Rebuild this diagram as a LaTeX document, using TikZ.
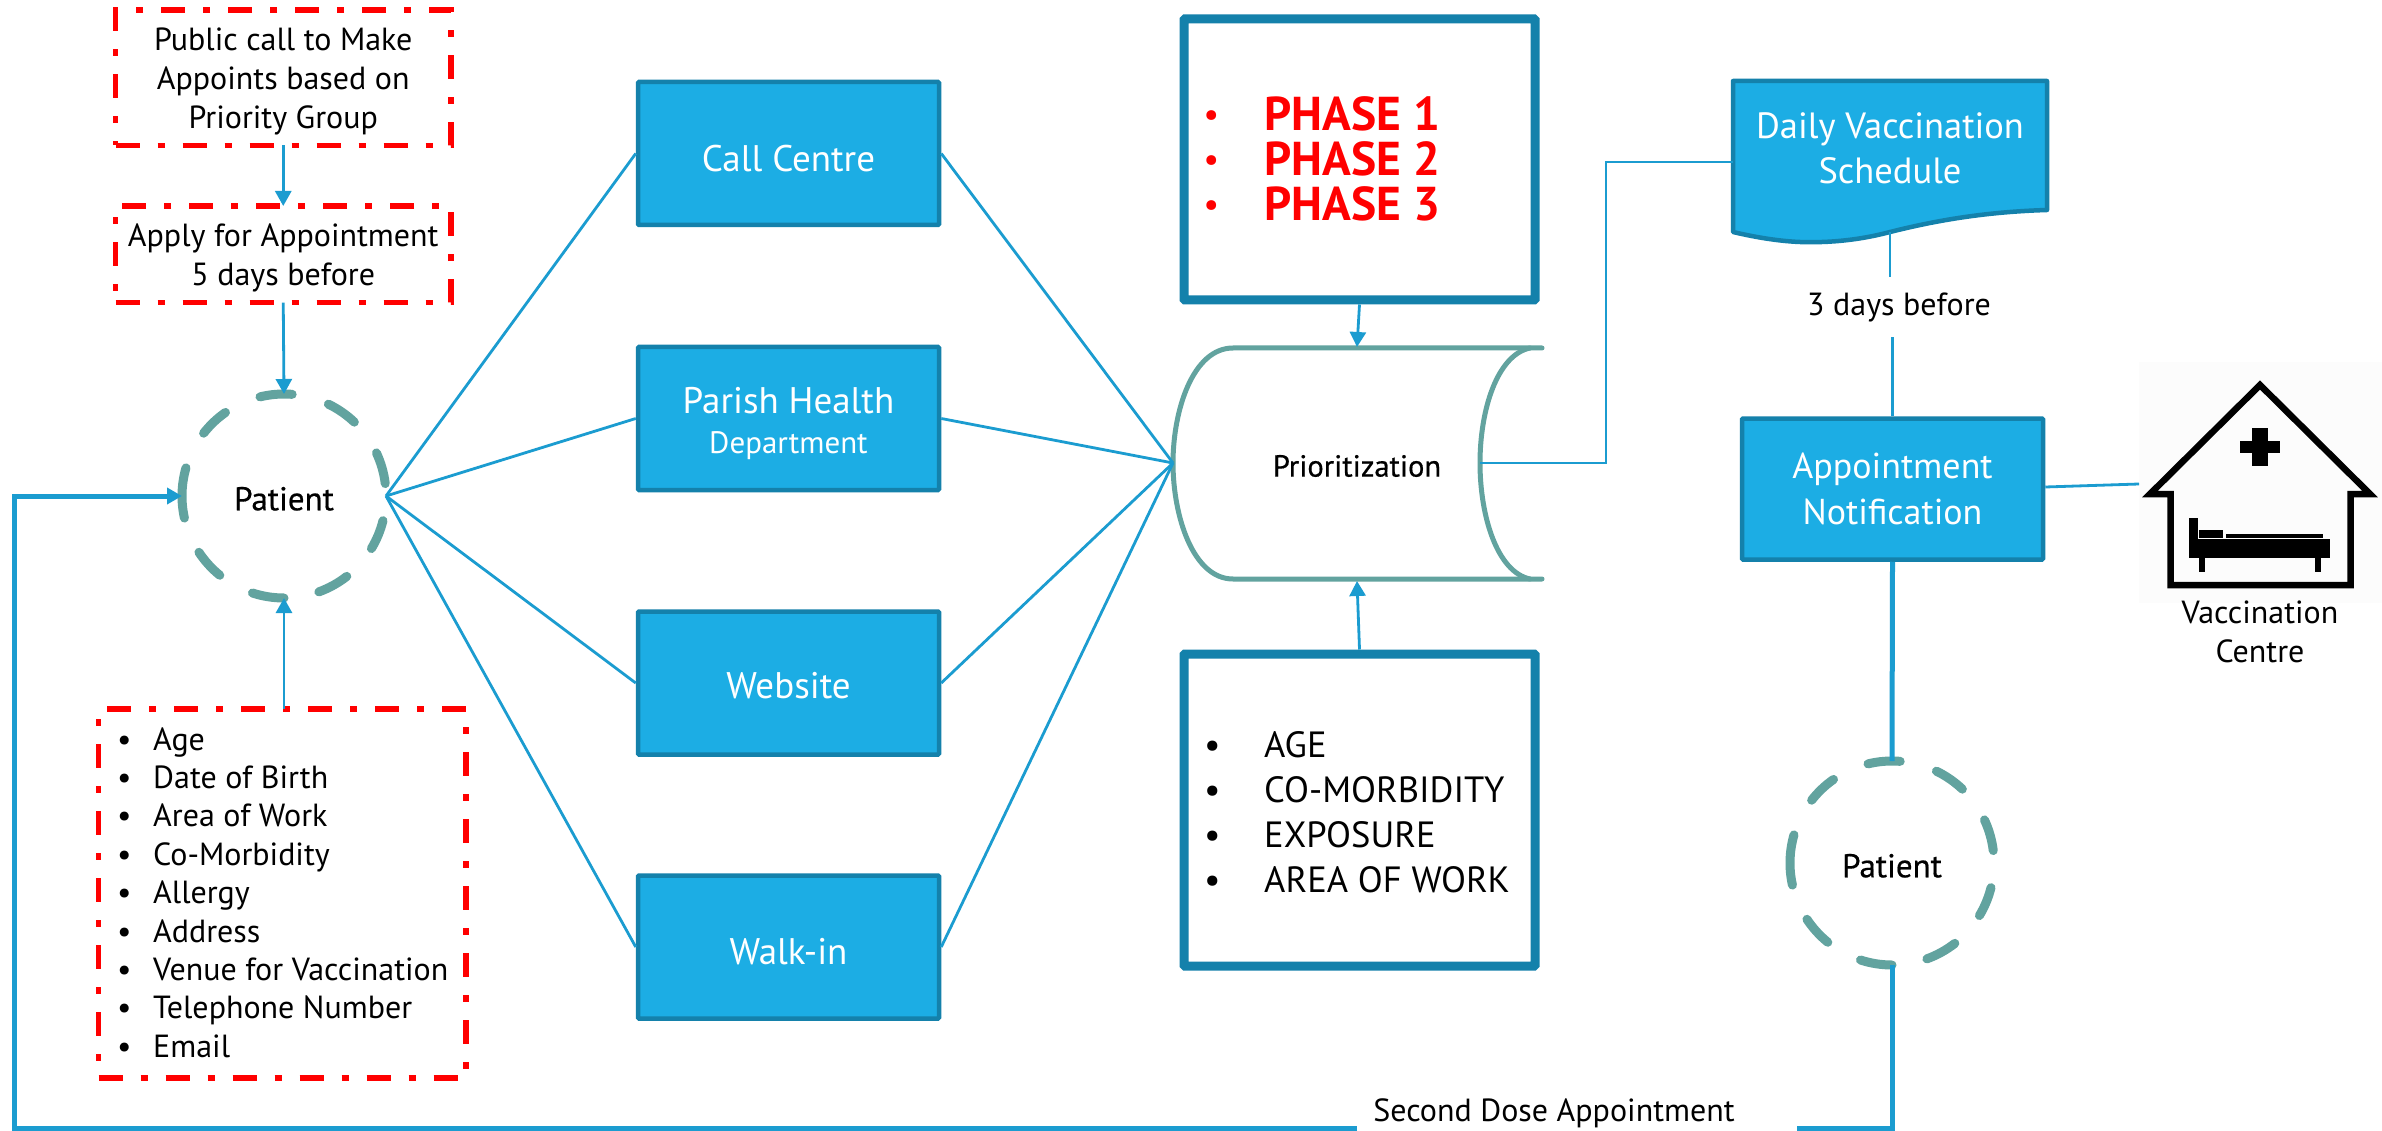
\documentclass[tikz,border=0pt]{standalone}
\usepackage{fontspec}
\setmainfont{PT Sans}
\usetikzlibrary{arrows.meta}
\definecolor{boxfill}{HTML}{1CADE4}
\definecolor{boxline}{HTML}{1481AB}
\definecolor{tealc}{HTML}{62A39F}
\definecolor{linkc}{HTML}{1B9CD0}
\newcommand{\tp}[1]{\rule{0pt}{#1}}
\tikzset{
  x=1pt,y=-1pt,
  redbox/.style={draw=red,line width=5.5pt,outer sep=0pt,dash pattern=on 24pt off 18pt on 7pt off 18pt,anchor=north west,inner sep=0pt,align=center,text=black},
  bluebox/.style={draw=boxline,fill=boxfill,line width=4.5pt,rounded corners=1pt,inner sep=0pt,align=center,text=white,font=\fontsize{37}{45.5}\selectfont,minimum width=301pt,minimum height=143pt},
  frame/.style={draw=boxline,line width=9pt,rounded corners=1pt,inner sep=0pt,minimum width=351pt},
  patient/.style={circle,outer sep=0pt,inner sep=0pt,minimum size=204pt,text=black,font=\fontsize{33}{34}\selectfont\addfontfeature{FakeBold=0.5}},
  dashseg/.style={draw=tealc,line width=9pt,line cap=round},
  link/.style={draw=linkc,line width=2.8pt},
  linkarrow/.style={link,-{Triangle[length=15pt,width=16pt]}},
  heavy/.style={draw=linkc,line width=5pt},
  small/.style={font=\fontsize{32}{38.7}\selectfont},
  lbl/.style={inner sep=0pt,text=black,align=center,font=\fontsize{32}{38.7}\selectfont},
  cyl/.style={draw=tealc,line width=5pt,line cap=round},
  bul/.style={inner sep=0pt,anchor=base west,text=black,font=\fontsize{32}{32}\selectfont},
  bulw/.style={inner sep=0pt,anchor=base west,text=black,font=\fontsize{36.5}{36.5}\selectfont},
  red phase/.style={inner sep=0pt,anchor=base west,text=red,font=\fontsize{47.5}{47.5}\selectfont\bfseries},
  iconfill/.style={fill=black,draw=none}
}
\begin{document}
\begin{tikzpicture}
\useasboundingbox (0,0) rectangle (2382,1131);
\fill[white] (0,0) rectangle (2382,1131);
% red boxes
\node[redbox,small,minimum width=335.5pt,minimum height=135.5pt] (call) at (115.5,10) {\tp{30pt}Public call to Make\\Appoints based on\\Priority Group};
\node[redbox,small,minimum width=335.5pt,minimum height=96.7pt] (apply) at (115.5,206) {\tp{30pt}Apply for Appointment\\5 days before};
\node[redbox,minimum width=367.5pt,minimum height=369pt] (form) at (98.5,709) {};
\foreach \t [count=\i from 0] in {Age,Date of Birth,Area of Work,Co-Morbidity,Allergy,Address,Venue for Vaccination,Telephone Number,Email}{
  \node[bul] (fb\i) at (117,{750+38.4*\i}) {•};
  \node[bul] (ft\i) at (153,{750+38.4*\i}) {\t};
}
% patients
\node[patient] (p1) at (284,496) {\tp{29pt}Patient};
\node[patient] (p2) at (1892,863) {\tp{29pt}Patient};
\foreach \c in {p1,p2}{
  \foreach \a/\b in {85.4/103.6,46.4/64.2,7/25,-31/-14,-70/-52,-108/-90,-146.5/-129,164/192.5,125/142}{
    \draw[dashseg] ([shift={(\a:102pt)}]\c.center) arc[start angle=\a,end angle=\b,radius=102pt];
  }
}
% blue boxes
\node[bluebox] (cc) at (788.5,153.5) {\tp{36pt}Call Centre};
\node[bluebox] (ph) at (788.5,418.5) {\tp{36pt}Parish Health\\[-5pt]{\fontsize{31}{34}\selectfont Department}};
\node[bluebox] (web) at (788.5,683) {\tp{32pt}Website};
\node[bluebox] (walk) at (788.5,947) {\tp{36pt}Walk-in};
% frames
\node[frame,minimum height=281pt] (phase) at (1359.5,159.5) {};
\node[frame,minimum height=312pt] (crit) at (1359.5,810) {};
\foreach \t [count=\i from 0] in {PHASE 1,PHASE 2,PHASE 3}{
  \node[red phase] (pb\i) at (1204,{130.5+45*\i}) {\fontsize{32}{32}\selectfont\raisebox{5pt}{•}};
  \node[red phase] (pt\i) at (1264,{130.5+45*\i}) {\t};
}
\foreach \t [count=\i from 0] in {AGE,CO-MORBIDITY,EXPOSURE,AREA OF WORK}{
  \node[bulw] (cb\i) at (1204,{757+45.3*\i}) {•};
  \node[bulw] (ct\i) at (1264,{757+45.3*\i}) {\t};
}
% cylinder
\draw[cyl] (1542,348) -- (1233,348) .. controls (1193,348) and (1173,410) .. (1173,463) .. controls (1173,516) and (1193,579) .. (1233,579) -- (1542,579);
\draw[cyl] (1530,348) .. controls (1497,355) and (1480,410) .. (1480,463) .. controls (1480,516) and (1497,572) .. (1530,579);
\node[inner sep=0pt,font=\fontsize{30.5}{32}\selectfont\addfontfeature{FakeBold=0.5},text=black] (prio) at (1357,466) {Prioritization};
\coordinate (cylW) at (1173,463);
\coordinate (cylE) at (1480,463);
\coordinate (cylN) at (1357,347);
\coordinate (cylS) at (1357,581);
% document
\draw[draw=boxline,fill=boxfill,line width=4.5pt,line join=round] (1733,81) -- (2047,81) -- (2047,210) .. controls (1980,212) and (1930,222) .. (1890,232) .. controls (1860,240) and (1830,243) .. (1800,242) .. controls (1775,241) and (1750,236) .. (1733,232) -- cycle;
\node[inner sep=0pt,align=center,text=white,font=\fontsize{36.5}{45}\selectfont] (daily) at (1890,148) {Daily Vaccination\\Schedule};
\coordinate (dailyW) at (1733,162);
\coordinate (dailyS) at (1890,232);
\node[bluebox,font=\fontsize{36}{45.5}\selectfont,minimum width=301pt,minimum height=141pt] (appt) at (1892.5,489) {Appointment\\Notification};
% labels
\node[lbl,minimum height=60pt] (days) at (1899,307) {3 days before};
\node[lbl,anchor=center] (second) at (1554,1113) {Second Dose Appointment};
\coordinate (b1) at (1797,1128);
\coordinate (b2) at (1357,1128);
\coordinate (corner) at (14,1128);
\coordinate (downr) at (1892,1128);
% hospital
\fill[black!1] (2139,362) rectangle (2382,603);
\draw[line width=6.5pt,line join=miter,miter limit=10] (2170.5,585) -- (2170.5,494) -- (2150,494) -- (2260,385) -- (2370,494) -- (2350.5,494) -- (2350.5,585) -- cycle;
\fill[iconfill] (2252,428) rectangle (2268,466);
\fill[iconfill] (2240,441) rectangle (2280,453);
\fill[iconfill] (2189,518) rectangle (2198,558);
\fill[iconfill] (2189,539) rectangle (2330,558);
\fill[iconfill] (2199,530) rectangle (2223,538);
\fill[iconfill] (2226,534) rectangle (2323,538);
\fill[iconfill] (2199,558) rectangle (2205,572);
\fill[iconfill] (2315,558) rectangle (2321,572);
\node[lbl] (vac) at (2260,632) {Vaccination\\Centre};
\coordinate (hospW) at (2139,484);
% connectors
\draw[linkarrow] (call.south) -- (apply.north);
\draw[linkarrow] (apply.south) -- (p1.north);
\draw[linkarrow] (form.north -| p1.south) -- (p1.south);
\foreach \n in {cc,ph,web,walk}{
  \draw[link] (p1.east) -- (\n.west);
  \draw[link] (\n.east) -- (cylW);
}
\draw[linkarrow] (phase.south) -- (cylN);
\draw[linkarrow] (crit.north) -- (cylS);
\draw[link] (cylE) -- (1606,463) |- (dailyW);
\draw[link] (dailyS) -- (dailyS |- days.north);
\draw[link] (days.south -| appt.north) -- (appt.north);
\draw[link] (appt.east) ++(0,-2) -- (hospW);
\draw[heavy] (appt.south) -- (p2.north);
\draw[heavy] (p2.south) -- (downr) -- (b1);
\draw[heavy,-{Triangle[length=15pt,width=16pt]}] (b2) -- (corner) |- (p1.west);
\end{tikzpicture}
\end{document}
